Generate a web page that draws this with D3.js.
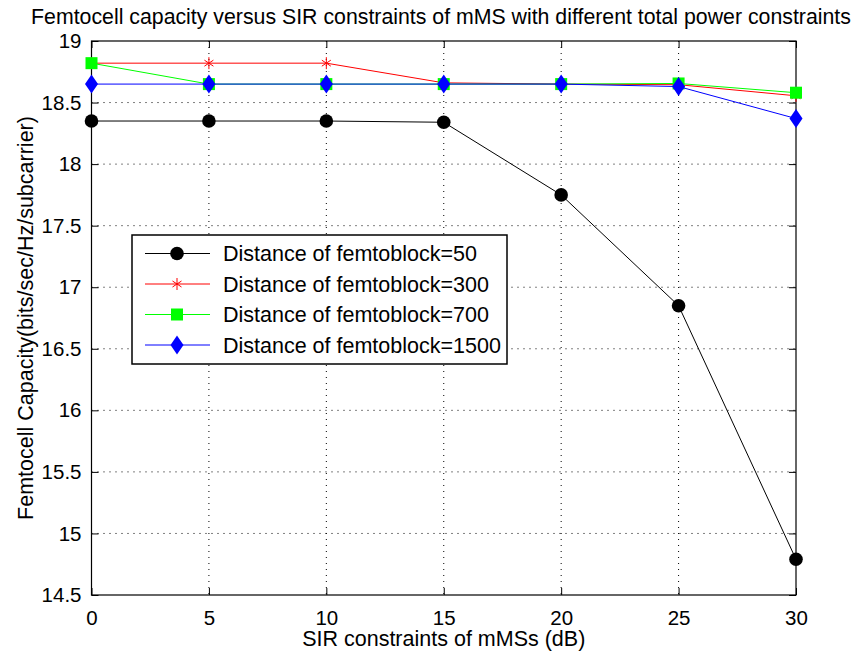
<!DOCTYPE html>
<html lang="en">
  <head>
    <meta charset="utf-8" />
    <title>Femtocell capacity versus SIR constraints</title>
    <script src="https://d3js.org/d3.v7.min.js"></script>
    <style>
      body { margin: 0; background: #fff; }
      svg { display: block; font-family: "Liberation Sans", Arial, sans-serif; }
      .grid line { stroke: #000; stroke-dasharray: 1 5; stroke-width: 1; }
    </style>
  </head>
  <body>
    <div id="chart"></div>
    <script>
      /* ----------------------------- DATA ----------------------------- */
      const sirValues = [0, 5, 10, 15, 20, 25, 30];
      const seriesNames = [
        'Distance of femtoblock=50',
        'Distance of femtoblock=300',
        'Distance of femtoblock=700',
        'Distance of femtoblock=1500',
      ];
      const cap50 = [18.35, 18.35, 18.35, 18.34, 17.75, 16.85, 14.79];
      const cap300 = [18.82, 18.82, 18.82, 18.66, 18.65, 18.645, 18.555];
      const cap700 = [18.82, 18.65, 18.65, 18.65, 18.65, 18.655, 18.58];
      const cap1500 = [18.65, 18.65, 18.65, 18.65, 18.65, 18.63, 18.37];
      const xTicks = [0, 5, 10, 15, 20, 25, 30];
      const yTicks = [14.5, 15, 15.5, 16, 16.5, 17, 17.5, 18, 18.5, 19];

      /* ---------------------------- CONFIG ---------------------------- */
      const svgW = 862, svgH = 655;
      const m = { t: 41, r: 66, b: 60, l: 91.5 };
      const w = svgW - m.l - m.r, h = svgH - m.t - m.b;
      const FONT = '"Liberation Sans", Arial, sans-serif';

      const series = [
        { name: seriesNames[0], vals: cap50, color: '#000', marker: 'circle' },
        { name: seriesNames[1], vals: cap300, color: '#ff0000', marker: 'star' },
        { name: seriesNames[2], vals: cap700, color: '#00ff00', marker: 'square' },
        { name: seriesNames[3], vals: cap1500, color: '#0000ff', marker: 'diamond' },
      ];

      const root = d3.select('#chart').append('svg')
        .attr('width', svgW).attr('height', svgH);
      const svg = root.append('g').attr('transform', `translate(${m.l},${m.t})`);

      const x = d3.scaleLinear().domain([0, 30]).range([0, w]);
      const y = d3.scaleLinear().domain([14.5, 19]).range([h, 0]);

      /* ----------------------------- GRID ----------------------------- */
      const grid = svg.append('g').attr('class', 'grid');
      grid.selectAll('line.v').data(xTicks.slice(1, -1)).join('line')
        .attr('class', 'v')
        .attr('x1', d => x(d)).attr('x2', d => x(d))
        .attr('y1', 0).attr('y2', h);
      grid.selectAll('line.h').data(yTicks.slice(1, -1)).join('line')
        .attr('class', 'h')
        .attr('y1', d => y(d)).attr('y2', d => y(d))
        .attr('x1', 0).attr('x2', w);

      /* ----------------------------- AXES ----------------------------- */
      const axisStyle = g => {
        g.attr('font-size', null).attr('font-family', null);
        g.select('.domain').remove();
        g.selectAll('line').attr('stroke', '#000');
        g.selectAll('text').style('font-size', '20.5px').attr('fill', '#000')
          .style('font-family', FONT);
      };
      svg.append('g').attr('transform', `translate(0,${h})`)
        .call(d3.axisBottom(x).tickValues(xTicks).tickSize(-7).tickPadding(15))
        .call(axisStyle);
      svg.append('g')
        .call(d3.axisTop(x).tickValues(xTicks).tickSize(-7).tickFormat(''))
        .call(axisStyle);
      svg.append('g')
        .call(d3.axisLeft(y).tickValues(yTicks).tickSize(-7).tickPadding(10)
          .tickFormat(d3.format('~g')))
        .call(axisStyle);
      svg.append('g').attr('transform', `translate(${w},0)`)
        .call(d3.axisRight(y).tickValues(yTicks).tickSize(-7).tickFormat(''))
        .call(axisStyle);

      svg.append('rect').attr('width', w).attr('height', h)
        .attr('fill', 'none').attr('stroke', '#000').attr('stroke-width', 1.2);

      /* ---------------------------- MARKERS --------------------------- */
      function drawMarker(g, type, color) {
        if (type === 'circle') {
          g.append('circle').attr('r', 6.8).attr('fill', color);
        } else if (type === 'square') {
          g.append('rect').attr('x', -6).attr('y', -6).attr('width', 12).attr('height', 12)
            .attr('fill', color);
        } else if (type === 'diamond') {
          g.append('path').attr('d', 'M0,-9.5L6.5,0L0,9.5L-6.5,0Z').attr('fill', color);
        } else if (type === 'star') {
          g.append('path')
            .attr('d', 'M0,-6V6M-4.5,-3L4.5,3M-4.5,3L4.5,-3')
            .attr('stroke', color).attr('stroke-width', 1).attr('fill', 'none');
        }
      }

      /* ----------------------------- LINES ---------------------------- */
      const line = d3.line().x((d, i) => x(sirValues[i])).y(d => y(d));
      series.forEach(s => {
        svg.append('path').datum(s.vals)
          .attr('d', line).attr('fill', 'none')
          .attr('stroke', s.color).attr('stroke-width', 1);
        s.vals.forEach((v, i) => {
          const g = svg.append('g').attr('transform', `translate(${x(sirValues[i])},${y(v)})`);
          drawMarker(g, s.marker, s.color);
        });
      });

      /* ----------------------------- LEGEND --------------------------- */
      const legend = root.append('g').attr('transform', 'translate(132,235)');
      legend.append('rect').attr('width', 375).attr('height', 129)
        .attr('fill', '#fff').attr('stroke', '#000').attr('stroke-width', 1.5);
      series.forEach((s, i) => {
        const row = legend.append('g').attr('transform', `translate(0,${18.5 + i * 30.5})`);
        row.append('line').attr('x1', 13).attr('x2', 78)
          .attr('stroke', s.color).attr('stroke-width', 1);
        drawMarker(row.append('g').attr('transform', 'translate(45,0)'), s.marker, s.color);
        row.append('text').attr('x', 91).attr('y', 7.5)
          .style('font-size', '21.5px').text(s.name);
      });

      /* ----------------------------- LABELS --------------------------- */
      root.append('text').attr('x', 441).attr('y', 24)
        .attr('text-anchor', 'middle').style('font-size', '21.3px')
        .text('Femtocell capacity versus SIR constraints of mMS with different total power constraints');
      root.append('text').attr('x', m.l + w / 2).attr('y', 646)
        .attr('text-anchor', 'middle').style('font-size', '21.5px')
        .text('SIR constraints of mMSs (dB)');
      root.append('text')
        .attr('transform', `translate(33,${m.t + h / 2}) rotate(-90)`)
        .attr('text-anchor', 'middle').style('font-size', '21.5px')
        .text('Femtocell Capacity(bits/sec/Hz/subcarrier)');
    </script>
  </body>
</html>
